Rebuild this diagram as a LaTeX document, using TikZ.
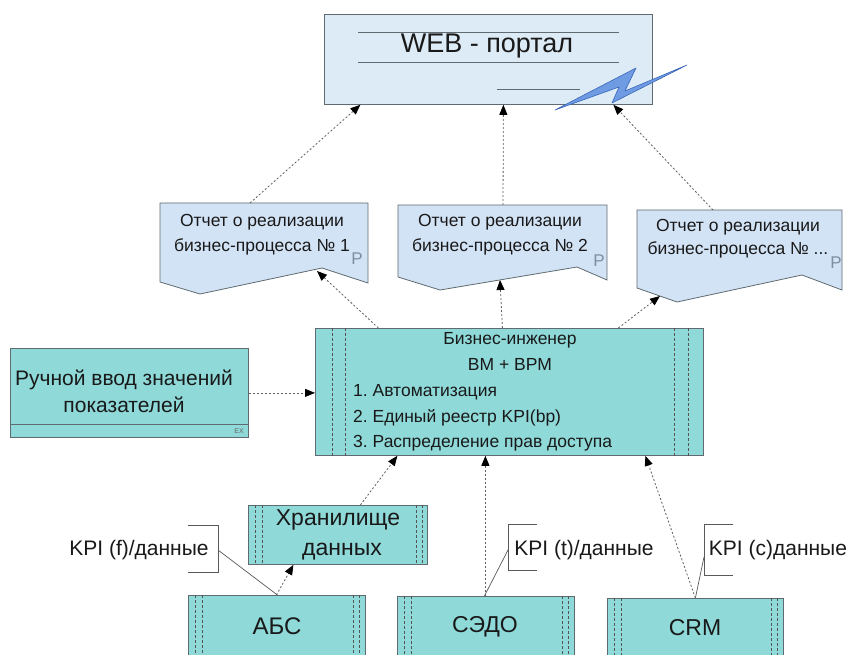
\documentclass[tikz,border=0pt]{standalone}
\usepackage{fontspec}
\setmainfont{Liberation Sans}
\usetikzlibrary{arrows.meta}
\frenchspacing
\definecolor{tealfill}{HTML}{8FD9D9}
\definecolor{repfill}{HTML}{D3E3F6}
\definecolor{webfill}{HTML}{DDEBF7}
\definecolor{edgec}{HTML}{5F6B70}
\definecolor{pcol}{HTML}{7F8FA3}
\definecolor{boltfill}{HTML}{6E9BE2}
\definecolor{boltdraw}{HTML}{3A66B8}
\tikzset{
  conn/.style={draw=gray!75!black, line width=0.8pt, dash pattern=on 2pt off 2pt,
    -{Triangle[length=10pt,width=8pt,color=black]}},
  tbox/.style={draw=edgec, fill=tealfill, line width=0.8pt, inner sep=0pt, anchor=north west},
  vdash/.style={draw=gray!65!black, line width=0.6pt, dash pattern=on 3pt off 2pt},
  rep/.style={draw=edgec, fill=repfill, line width=0.8pt},
  txt/.style={inner sep=0pt, text=black!90},
  rtext/.style={txt, align=center, font=\fontsize{17.5}{25}\selectfont},
  ptext/.style={inner sep=0pt, text=pcol, font=\fontsize{17}{17}\selectfont},
  brk/.style={draw=gray!70!black, line width=0.7pt},
}
\begin{document}
\begin{tikzpicture}[x=1pt,y=-1pt]
\useasboundingbox (0,0) rectangle (849,655);
\clip (0,0) rectangle (849,655);
\fill[white] (0,0) rectangle (849,655);

% WEB portal
\node[draw=edgec, fill=webfill, line width=0.8pt, minimum width=328pt, minimum height=90pt, anchor=north west, inner sep=0pt] (web) at (324,14) {};
\draw[edgec, line width=0.7pt] (358,32) -- (619,32);
\draw[edgec, line width=0.7pt] (358,62) -- (619,62);
\draw[edgec, line width=0.7pt] (497,89) -- (580,89);
\node[txt, font=\fontsize{27}{27}\selectfont] (webtxt) at (487,46) {WEB - портал};
% lightning
\draw[boltdraw, fill=boltfill, line width=0.6pt, line join=round]
  (555,110) -- (636,68) -- (625,91) -- (687,65) -- (612,103) -- (619,87) -- cycle;

% Report boxes
\draw[rep] (160,203) -- (368,203) -- (368,283) -- (322,268) -- (200,294) -- (160,282) -- cycle;
\coordinate (r1top) at (250,203);
\coordinate (r1bot) at (317,271);
\node[rtext] (r1) at (262,235) {Отчет о реализации\\бизнес-процесса № 1};
\node[ptext] (p1) at (357,259) {P};

\draw[rep] (398,205) -- (607,205) -- (607,280) -- (577,267) -- (440,290) -- (398,277) -- cycle;
\coordinate (r2top) at (503,205);
\coordinate (r2bot) at (500,280);
\node[rtext] (r2) at (500,235) {Отчет о реализации\\бизнес-процесса № 2};
\node[ptext] (p2) at (599,261) {P};

\draw[rep] (637,210) -- (842,210) -- (842,290) -- (802,275) -- (677,302) -- (637,288) -- cycle;
\coordinate (r3top) at (713,210);
\coordinate (r3bot) at (660,296);
\node[rtext, font=\fontsize{17.5}{23}\selectfont] (r3) at (738,239) {Отчет о реализации\\бизнес-процесса № ...};
\node[ptext] (p3) at (836,263) {P};

% Main box
\node[tbox, minimum width=388pt, minimum height=127pt] (main) at (315,328) {};
\foreach \dx in {17,30} {
  \draw[vdash] ([xshift=\dx pt]main.north west) -- ([xshift=\dx pt]main.south west);
}
\foreach \dx in {-30,-16} {
  \draw[vdash] ([xshift=\dx pt]main.north east) -- ([xshift=\dx pt]main.south east);
}
\node[txt, font=\fontsize{17.5}{17.5}\selectfont] (m1) at (510,340) {Бизнес-инженер};
\node[txt, font=\fontsize{17.5}{17.5}\selectfont] (m2) at (510,364) {BM + BPM};
\node[txt, anchor=west, font=\fontsize{17.5}{17.5}\selectfont] (m3) at (353,392) {1. Автоматизация};
\node[txt, anchor=west, font=\fontsize{17.5}{17.5}\selectfont] (m4) at (353,418) {2. Единый реестр KPI(bp)};
\node[txt, anchor=west, font=\fontsize{17.5}{17.5}\selectfont] (m5) at (353,443) {3. Распределение прав доступа};

% Manual input
\node[tbox, minimum width=238pt, minimum height=89pt] (manual) at (10,348) {};
\draw[edgec, line width=0.7pt] (10,424) -- (248,424);
\node[txt, align=center, font=\fontsize{21}{27}\selectfont] (mantxt) at (124,391) {Ручной ввод значений\\показателей};
\node[inner sep=0pt, text=gray!80!black, font=\fontsize{7}{7}\selectfont] (ex) at (239,431) {EX};

% Storage
\node[tbox, minimum width=179pt, minimum height=59pt] (store) at (248,505) {};
\foreach \dx in {7,14} {
  \draw[vdash] ([xshift=\dx pt]store.north west) -- ([xshift=\dx pt]store.south west);
}
\foreach \dx in {-12,-6} {
  \draw[vdash] ([xshift=\dx pt]store.north east) -- ([xshift=\dx pt]store.south east);
}
\node[txt, font=\fontsize{23}{23}\selectfont] (st1) at (338,520) {Хранилище};
\node[txt, font=\fontsize{23}{23}\selectfont] (st2) at (342,552) {данных};

% Bottom systems
\node[tbox, minimum width=177pt, minimum height=80pt] (abs) at (188,595) {};
\node[tbox, minimum width=177pt, minimum height=80pt] (sedo) at (397,596) {};
\node[tbox, minimum width=176pt, minimum height=80pt] (crm) at (607,598) {};
\foreach \b in {abs,sedo,crm} {
  \foreach \dx in {7,14} {
    \draw[vdash] ([xshift=\dx pt]\b.north west) -- ([xshift=\dx pt]\b.south west);
  }
  \foreach \dx in {-13,-7} {
    \draw[vdash] ([xshift=\dx pt]\b.north east) -- ([xshift=\dx pt]\b.south east);
  }
}
\node[txt, font=\fontsize{24}{24}\selectfont] (abst) at (277,626) {АБС};
\node[txt, font=\fontsize{23}{23}\selectfont] (sedot) at (485,627) {СЭДО};
\node[txt, font=\fontsize{23}{23}\selectfont] (crmt) at (695,628) {CRM};

% KPI labels
\node[txt, font=\fontsize{21}{21}\selectfont] (kf) at (139,550) {KPI (f)/данные};
\draw[brk] (188,525) -- (218,525) -- (218,572) -- (188,572);
\draw[brk] (218,550) -- ([xshift=0.5pt]abs.north);

\node[txt, font=\fontsize{21}{21}\selectfont] (kt) at (584,550) {KPI (t)/данные};
\draw[brk] (537,524) -- (508,524) -- (508,570) -- (537,570);
\draw[brk] (508,550) -- ([xshift=-1.5pt]sedo.north);

\node[txt, font=\fontsize{21}{21}\selectfont] (kc) at (778,550) {KPI (c)данные};
\draw[brk] (733,524) -- (704,524) -- (704,575) -- (733,575);
\draw[brk] (704,557) -- ([xshift=0pt]crm.north);

% Connectors
\draw[conn] (manual.east) -- (main.west |- manual.east);
\draw[conn] ([xshift=-0.5pt]abs.north) -- ([xshift=-44.5pt]store.south);
\draw[conn] ([xshift=22.5pt]store.north) -- ([xshift=-112pt]main.south);
\draw[conn] ([xshift=-0.5pt]sedo.north) -- ([xshift=-24pt]main.south);
\draw[conn] ([xshift=0pt]crm.north) -- ([xshift=136pt]main.south);
\draw[conn] ([xshift=-131pt]main.north) -- (r1bot);
\draw[conn] ([xshift=-7pt]main.north) -- (r2bot);
\draw[conn] ([xshift=109pt]main.north) -- (r3bot);
\draw[conn] (r1top) -- ([xshift=-128pt]web.south);
\draw[conn] (r2top) -- ([xshift=15pt]web.south);
\draw[conn] (r3top) -- ([xshift=125pt]web.south);
\end{tikzpicture}
\end{document}
